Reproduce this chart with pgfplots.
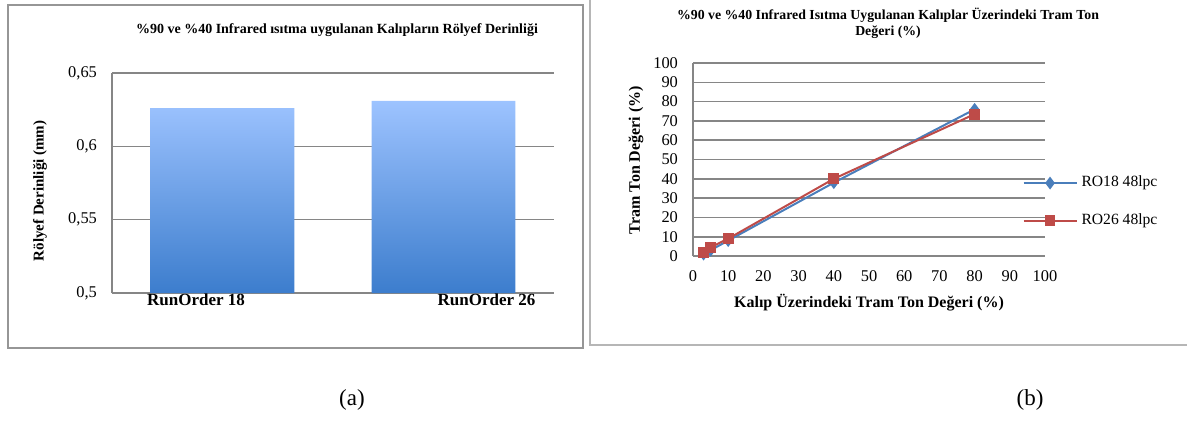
\documentclass[border=0pt]{standalone}
\usepackage{pgfplots}
\pgfplotsset{compat=1.18}
\usepackage{fontspec}
\setmainfont{Liberation Serif}

\definecolor{gridgray}{RGB}{134,134,134}
\definecolor{framegray}{RGB}{150,150,150}
\definecolor{barlight}{RGB}{157,195,255}
\definecolor{bardark}{RGB}{60,125,205}
\definecolor{roblue}{RGB}{74,126,187}
\definecolor{rored}{RGB}{190,75,72}

\pgfplotsset{
  excel/.style={
    scale only axis,
    axis lines=left,
    axis line style={-, draw=gridgray, line width=0.8pt},
    x axis line style={draw=none},
    major tick length=0pt,
    ymajorgrids,
    grid style={draw=gridgray, line width=0.8pt},
    /pgf/number format/assume math mode=true,
    tick label style={font=\fontsize{8.2}{10}\selectfont},
    yticklabel style={xshift=-4pt},
  },
}

\begin{document}
\begin{tikzpicture}
\useasboundingbox (0,0) rectangle (593.5pt,210pt);
% frames
\draw[framegray, line width=1pt] (4pt,36pt) rectangle (291.5pt,207.5pt);
\draw[framegray!70, line width=1pt] (295pt,37.5pt) rectangle (600pt,210.5pt);

% (a) bars
\begin{axis}[excel,
  at={(56pt,63.5pt)}, anchor=south west,
  width=221pt, height=110pt,
  xmin=-0.5, xmax=1.5, ymin=0.5, ymax=0.65,
  ytick={0.5,0.55,0.6,0.65},
  yticklabel style={/pgf/number format/.cd, use comma, fixed},
  xtick={-0.12,1.195},
  xticklabels={RunOrder 18, RunOrder 26},
  xticklabel style={font=\bfseries\fontsize{8.5}{10}\selectfont, yshift=3pt},
  title={\%90 ve \%40 Infrared ısıtma uygulanan Kalıpların Rölyef Derinliği},
  title style={font=\bfseries\fontsize{7}{8}\selectfont, at={(axis description cs:0.509,1.141)}, anchor=center},
  ylabel={Rölyef Derinliği (mm)},
  ylabel style={font=\bfseries\fontsize{7.5}{9}\selectfont, at={(axis description cs:-0.163,0.464)}, anchor=center},
]
\addplot[ybar, bar width=0.65, draw=none, top color=barlight, bottom color=bardark]
  coordinates {(0,0.626) (1,0.631)};
\end{axis}

% (b) lines
\begin{axis}[excel,
  at={(346.5pt,82pt)}, anchor=south west,
  width=176pt, height=96.5pt,
  xmin=0, xmax=100, ymin=0, ymax=100,
  xtick={0,10,...,100}, ytick={0,10,...,100},
  xticklabel style={yshift=-4pt},
  clip=false,
  title={\%90 ve \%40 Infrared Isıtma Uygulanan Kalıplar Üzerindeki Tram Ton\\Değeri (\%)},
  title style={font=\bfseries\fontsize{6.9}{8}\selectfont, align=center, at={(axis description cs:0.554,1.145)}, anchor=center},
  ylabel={Tram Ton Değeri (\%)},
  ylabel style={font=\bfseries\fontsize{8}{9}\selectfont, at={(axis description cs:-0.162,0.497)}, anchor=center},
  xlabel={Kalıp Üzerindeki Tram Ton Değeri (\%)},
  xlabel style={font=\bfseries\fontsize{8}{9}\selectfont, at={(axis description cs:0.5,-0.244)}, anchor=center},
  legend style={at={(axis description cs:0.918,0.28)}, anchor=west, draw=none, fill=none,
    font=\fontsize{7.8}{9}\selectfont, row sep=8pt},
  legend cell align={left},
  legend image code/.code={
    \draw[#1, mark repeat=2, mark phase=2] plot coordinates {(0pt,0pt) (13.25pt,0pt) (26.5pt,0pt)};
  },
]
\addplot[roblue, line width=1pt, mark=diamond*, mark size=2.4pt] coordinates {
  (3,1) (5,3) (10,8) (40,38) (80,76)
};
\addplot[rored, line width=1pt, mark=square*, mark size=2.2pt] coordinates {
  (3,2) (5,4.5) (10,9) (40,40) (80,73.5)
};
\legend{RO18 48lpc, RO26 48lpc}
\end{axis}

% captions
\node[font=\fontsize{11.5}{13}\selectfont] at (176pt,10pt) {(a)};
\node[font=\fontsize{11.5}{13}\selectfont] at (515pt,10pt) {(b)};
\end{tikzpicture}
\end{document}
